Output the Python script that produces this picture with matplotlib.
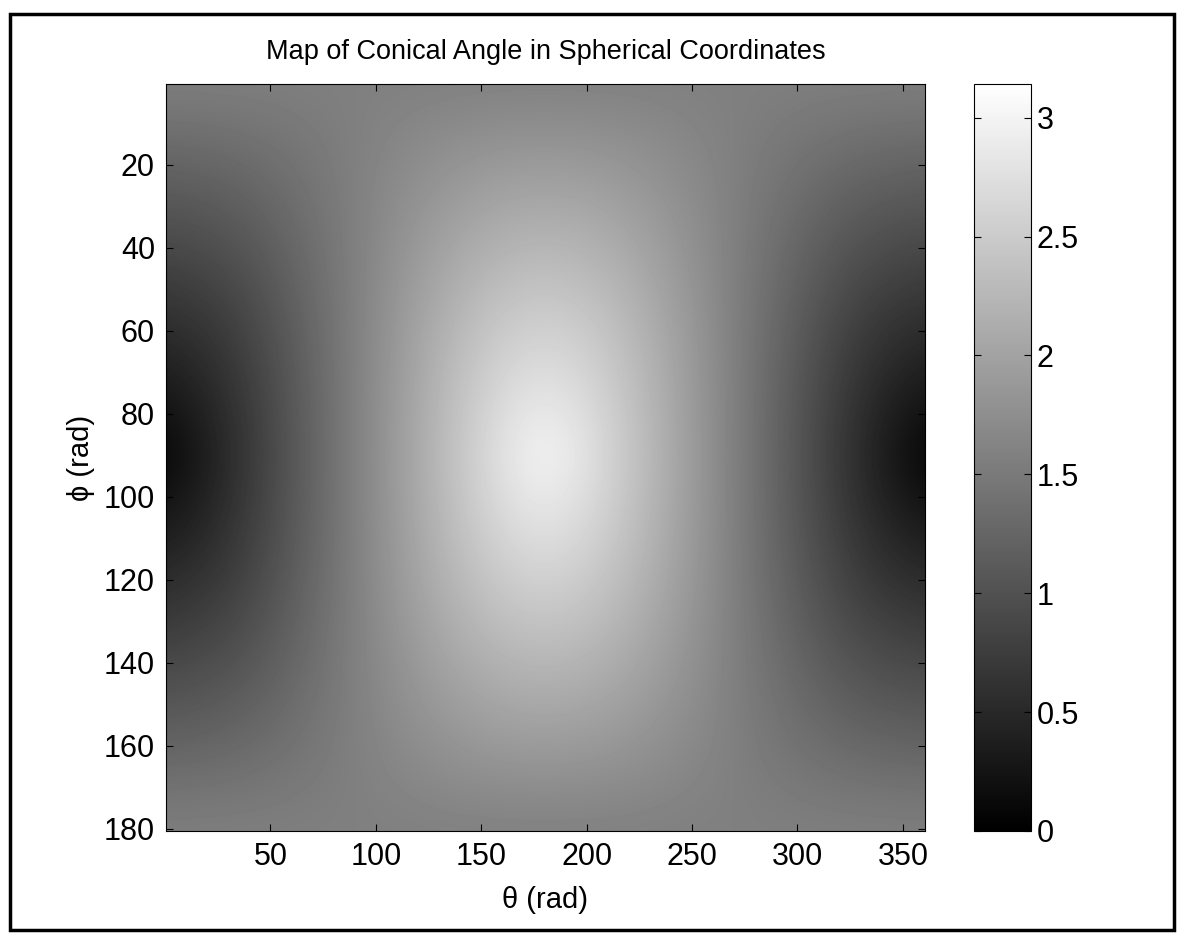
import matplotlib
matplotlib.use('Agg')
import matplotlib.pyplot as plt
import numpy as np
from matplotlib.patches import Rectangle

plt.rcParams['font.family'] = ['Liberation Sans', 'DejaVu Sans']

# sample points (phi rows, theta columns, degrees)
theta_pts = [0, 30, 60, 90, 120, 150, 180, 210, 240, 270, 300, 330, 360]
phi_pts = [0, 15, 30, 45, 60, 75, 90, 105, 120, 135, 150, 165, 180]
row_0 = [1.57, 1.57, 1.57, 1.57, 1.57, 1.57, 1.57, 1.57, 1.57, 1.57, 1.57, 1.57, 1.57]
row_15 = [1.31, 1.35, 1.44, 1.57, 1.70, 1.80, 1.83, 1.80, 1.70, 1.57, 1.44, 1.35, 1.31]
row_30 = [1.05, 1.12, 1.32, 1.57, 1.82, 2.02, 2.09, 2.02, 1.82, 1.57, 1.32, 1.12, 1.05]
row_45 = [0.79, 0.91, 1.21, 1.57, 1.93, 2.23, 2.36, 2.23, 1.93, 1.57, 1.21, 0.91, 0.79]
row_60 = [0.52, 0.72, 1.12, 1.57, 2.02, 2.42, 2.62, 2.42, 2.02, 1.57, 1.12, 0.72, 0.52]
row_75 = [0.26, 0.58, 1.07, 1.57, 2.07, 2.56, 2.88, 2.56, 2.07, 1.57, 1.07, 0.58, 0.26]
row_90 = [0.00, 0.52, 1.05, 1.57, 2.09, 2.62, 3.14, 2.62, 2.09, 1.57, 1.05, 0.52, 0.00]
cone = np.array([row_0, row_15, row_30, row_45, row_60, row_75, row_90,
                 row_75, row_60, row_45, row_30, row_15, row_0])

x_ticks = [50, 100, 150, 200, 250, 300, 350]
y_ticks = [20, 40, 60, 80, 100, 120, 140, 160, 180]
cb_ticks = [0, 0.5, 1, 1.5, 2, 2.5, 3]
cb_labels = ['0', '0.5', '1', '1.5', '2', '2.5', '3']

W, H = 1177, 934
fig = plt.figure(figsize=(W / 100, H / 100), dpi=100)

ax = fig.add_axes([166 / W, 1 - 831 / H, (925 - 166) / W, (831 - 84) / H])
dx = theta_pts[1] - theta_pts[0]
dy = phi_pts[1] - phi_pts[0]
im = ax.imshow(cone, cmap='gray', vmin=0, vmax=np.pi, aspect='auto',
               interpolation='bicubic',
               extent=[theta_pts[0] - dx / 2, theta_pts[-1] + dx / 2,
                       phi_pts[-1] + dy / 2, phi_pts[0] - dy / 2])
ax.set_xlim(0.5, 360.5)
ax.set_ylim(180.5, 0.5)
ax.set_xticks(x_ticks)
ax.set_yticks(y_ticks)
ax.tick_params(direction='in', top=True, right=True, length=5, width=0.8,
               labelsize=22, pad=8)
ax.set_title('Map of Conical Angle in Spherical Coordinates', fontsize=19.5, pad=18)
ax.set_xlabel('θ (rad)', fontsize=21, labelpad=10)
ax.set_ylabel('ϕ (rad)', fontsize=21, labelpad=6)
for s in ax.spines.values():
    s.set_linewidth(0.8)

cax = fig.add_axes([974 / W, 1 - 831 / H, (1031 - 974) / W, (831 - 84) / H])
cb = fig.colorbar(im, cax=cax)
cb.set_ticks(cb_ticks)
cb.set_ticklabels(cb_labels)
cax.tick_params(direction='in', left=True, right=True, length=5, width=0.8,
                labelsize=22, pad=4)
cb.outline.set_linewidth(0.8)

# scanned page frame
fig.patches.append(Rectangle((10 / W, 1 - 930 / H), (1174 - 10) / W, (930 - 14) / H,
                             transform=fig.transFigure, fill=False,
                             edgecolor='black', linewidth=2.5))

fig.savefig('out.png', dpi=100)
